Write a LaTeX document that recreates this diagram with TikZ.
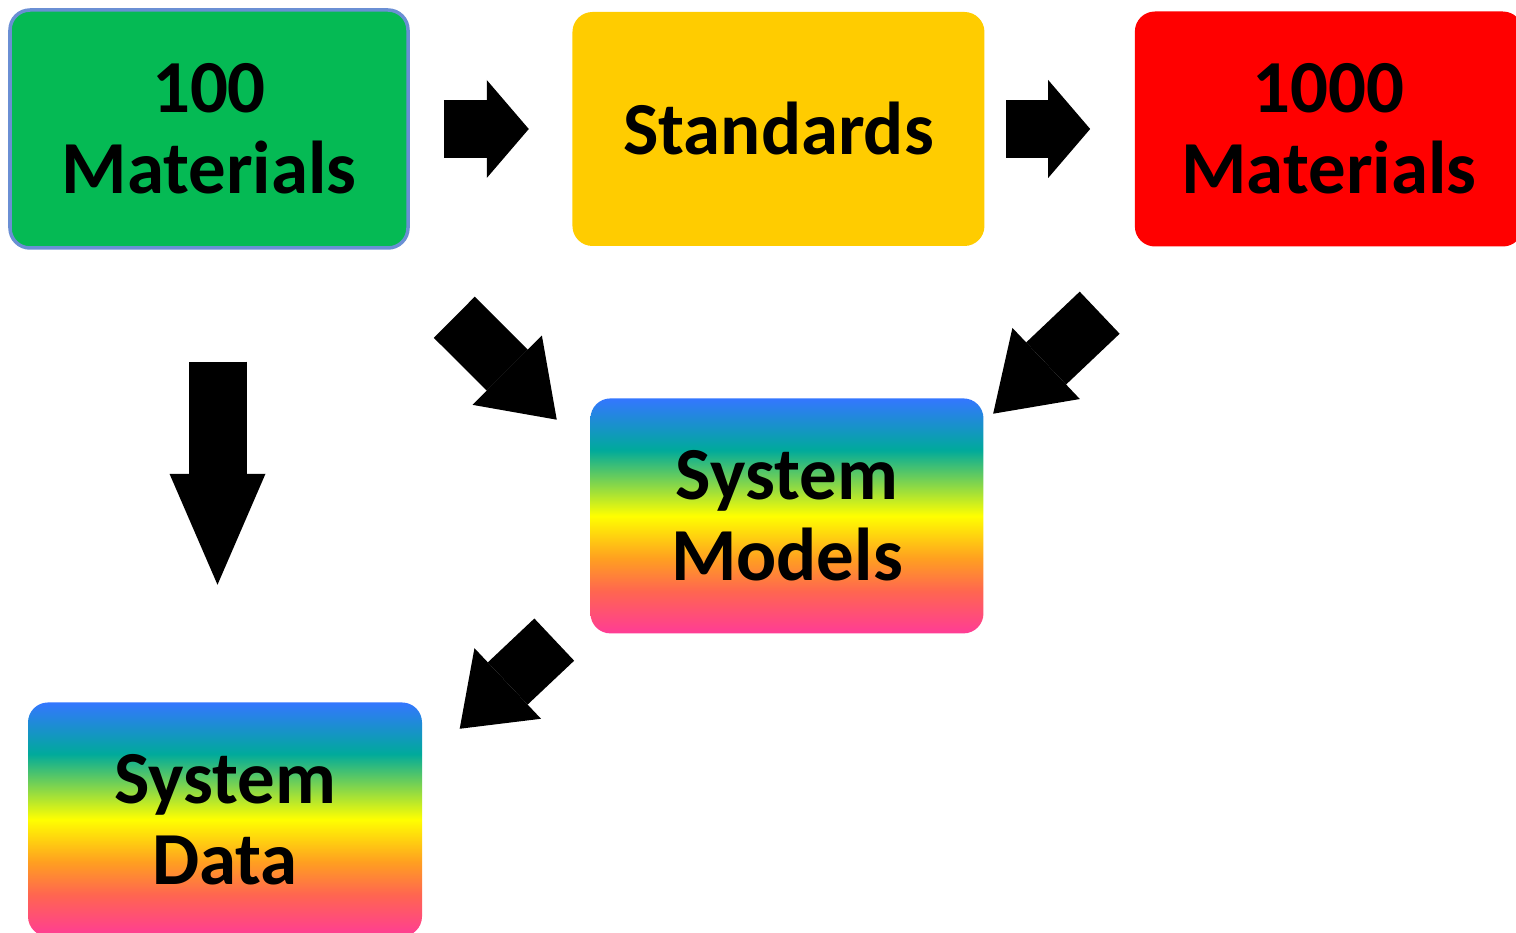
\documentclass[tikz,border=0pt]{standalone}
\usepackage{fontspec}
\setmainfont{Carlito}
\usetikzlibrary{arrows.meta,positioning}
\definecolor{boxgreen}{RGB}{5,186,84}
\definecolor{boxedge}{RGB}{106,143,212}
\definecolor{boxyellow}{RGB}{255,204,0}
\definecolor{boxred}{RGB}{255,0,0}
\definecolor{rbblue}{RGB}{52,118,255}
\definecolor{rbteal}{RGB}{0,170,155}
\definecolor{rbyellow}{RGB}{255,255,0}
\definecolor{rborange}{RGB}{255,160,32}
\definecolor{rbred}{RGB}{255,102,80}
\definecolor{rbpink}{RGB}{255,60,150}
\pgfdeclareverticalshading{rainbow}{100bp}{color(0bp)=(rbpink); color(25bp)=(rbpink); color(34bp)=(rbred); color(41bp)=(rborange); color(50bp)=(rbyellow); color(64bp)=(rbteal); color(75bp)=(rbblue); color(100bp)=(rbblue)}

\begin{document}
\begin{tikzpicture}[
      mybox/.style={
         rectangle,
         rounded corners=0.2cm,
         align=center,
         inner sep=0pt,
         font=\fontsize{21.3pt}{23pt}\selectfont\bfseries},
      myarrow/.style={line width=0.58cm},
      ]
      \useasboundingbox (0,0) rectangle (15.16,-9.33);
      \clip (0,0) rectangle (15.16,-9.33);

      \node[mybox,fill=boxgreen,draw=boxedge,line width=0.035cm,
            minimum width=3.98cm,minimum height=2.38cm] (mat100) at (2.09,-1.29) {100\\Materials};
      \node[mybox,fill=boxyellow,minimum width=4.12cm,minimum height=2.34cm,
            right=1.62cm of mat100] (std) {Standards};
      \node[mybox,fill=boxred,minimum width=3.88cm,minimum height=2.35cm,
            right=1.49cm of std] (mat1000) {1000\\Materials};
      \node[mybox,shading=rainbow,minimum width=3.93cm,minimum height=2.35cm,
            below=1.51cm of std,xshift=0.085cm] (sysmod) {System\\Models};
      \node[mybox,shading=rainbow,minimum width=3.94cm,minimum height=2.34cm,
            below=4.52cm of mat100,xshift=0.16cm] (sysdata) {System\\Data};

      % block arrows: thick shaft with a wide triangle head
      \draw[myarrow,shorten <=0.34cm,shorten >=0.43cm,
            -{Triangle[length=0.42cm,width=0.98cm,line width=0pt]}] (mat100) -- (std);
      \draw[myarrow,shorten <=0.21cm,shorten >=0.44cm,
            -{Triangle[length=0.42cm,width=0.98cm,line width=0pt]}] (std) -- (mat1000);
      \draw[myarrow,shorten <=1.12cm,shorten >=1.17cm,
            -{Triangle[length=1.11cm,width=0.96cm,line width=0pt]}]
            ([xshift=0.085cm]mat100.south) -- ([xshift=-0.075cm]sysdata.north);
      \draw[myarrow,-{Triangle[length=0.70cm,width=0.98cm,line width=0pt]}]
            ([shift={(0.445,-0.675)}]mat100.south east) -- ([shift={(-0.33,-0.22)}]sysmod.north west);
      \draw[myarrow,-{Triangle[length=0.73cm,width=0.98cm,line width=0pt]}]
            ([shift={(-0.345,-0.655)}]mat1000.south west) -- ([shift={(0.09,-0.16)}]sysmod.north east);
      \draw[myarrow,-{Triangle[length=0.66cm,width=0.97cm,line width=0pt]}]
            ([shift={(-0.355,-0.055)}]sysmod.south west) -- ([shift={(0.37,-0.27)}]sysdata.north east);
\end{tikzpicture}
\end{document}
